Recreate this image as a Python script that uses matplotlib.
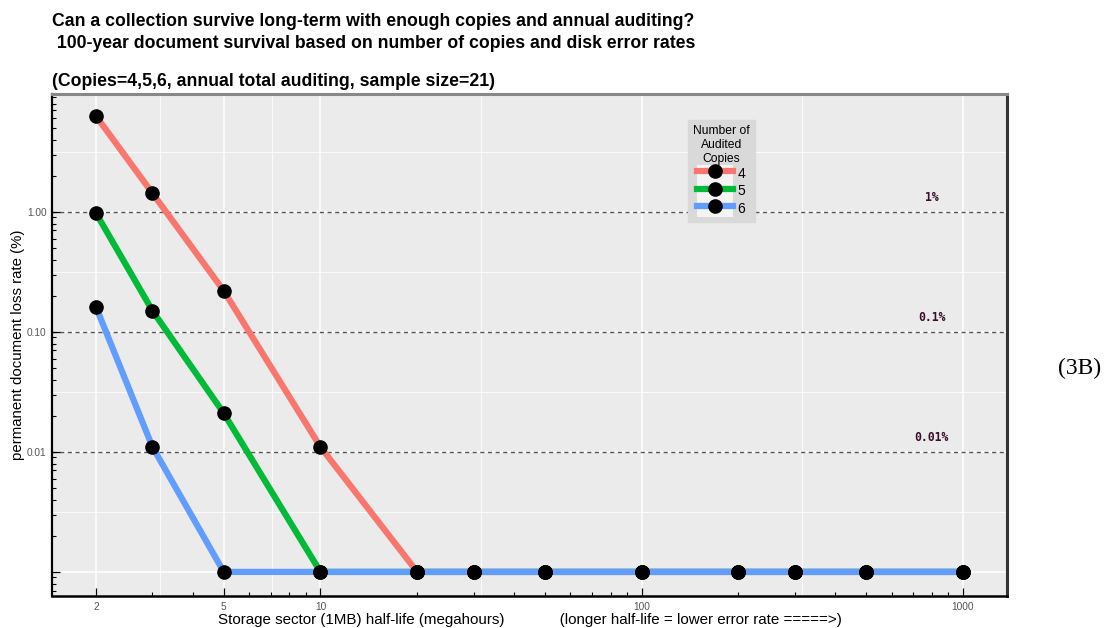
import matplotlib
matplotlib.use("Agg")
import matplotlib.pyplot as plt
from matplotlib.lines import Line2D
from matplotlib.patches import Rectangle
from matplotlib.legend_handler import HandlerTuple
from matplotlib.ticker import FixedLocator, FixedFormatter, NullFormatter
import numpy as np

plt.rcParams['font.family'] = ['Liberation Sans', 'DejaVu Sans']

# Storage sector half-life (megahours)
half_life = [2, 3, 5, 10, 20, 30, 50, 100, 200, 300, 500, 1000]
# Permanent document loss rate (%) per number of audited copies (floor = 0.001)
loss_copies4 = [6.3, 1.43, 0.22, 0.011, 0.001, 0.001, 0.001, 0.001, 0.001, 0.001, 0.001, 0.001]
loss_copies5 = [0.98, 0.15, 0.021, 0.001, 0.001, 0.001, 0.001, 0.001, 0.001, 0.001, 0.001, 0.001]
loss_copies6 = [0.162, 0.011, 0.001, 0.001, 0.001, 0.001, 0.001, 0.001, 0.001, 0.001, 0.001, 0.001]
series_labels = ["4", "5", "6"]
series_colors = ["#F8766D", "#00BA38", "#619CFF"]

# Reference loss-rate levels
ref_levels = [1.0, 0.1, 0.01]
ref_labels = ["1%", "0.1%", "0.01%"]

x_ticks = [2, 5, 10, 100, 1000]
x_ticklabels = ["2", "5", "10", "100", "1000"]
y_ticks = [1.0, 0.1, 0.01, 0.001]
y_ticklabels = ["1.00", "0.10", "0.01", ""]

fig = plt.figure(figsize=(11.15, 6.28), dpi=100)
ax = fig.add_axes([52 / 1115, 1 - 596 / 628, 955 / 1115, 502 / 628])
ax.set_facecolor("#EBEBEB")
ax.set_xscale("log")
ax.set_yscale("log")
ax.set_xlim(1.46, 1371)
ax.set_ylim(0.00063, 9.6)

# background grid: major at breaks, minor at half-decades in log space
for xv in x_ticks:
    ax.axvline(xv, color="white", lw=1.1, zorder=0.5)
for xv in [np.sqrt(10), np.sqrt(50), np.sqrt(1000), np.sqrt(100000)]:
    ax.axvline(xv, color="white", lw=0.6, zorder=0.5)
for yv in y_ticks:
    ax.axhline(yv, color="white", lw=1.1, zorder=0.5)
for yv in [np.sqrt(10), np.sqrt(0.1), np.sqrt(0.001), np.sqrt(0.00001)]:
    ax.axhline(yv, color="white", lw=0.6, zorder=0.5)

for lvl, lab in zip(ref_levels, ref_labels):
    ax.axhline(lvl, color="#555555", lw=1.0, ls=(0, (3, 2.5)), zorder=1)
    ax.text(800, lvl * 1.31, lab, ha="center", va="center",
            family="DejaVu Sans Mono", fontweight="bold", fontsize=8.3,
            color="#3a0d2a", zorder=2)

handles = []
for vals, lab, col in zip([loss_copies4, loss_copies5, loss_copies6],
                          series_labels, series_colors):
    ax.plot(half_life, vals, color=col, lw=4.5, solid_capstyle="butt", zorder=3)
    ax.plot(half_life, vals, ls="none", marker="o", ms=9.5, color="black", zorder=4)
    key_bg = Rectangle((0, 0), 1, 1, facecolor="#F4F4F4", edgecolor="none")
    key_line = Line2D([], [], color=col, lw=4.5, marker="o", ms=9.5,
                      markerfacecolor="black", markeredgecolor="black")
    handles.append((key_bg, key_line))

leg = ax.legend(handles, series_labels, title="Number of\nAudited\nCopies",
                handler_map={tuple: HandlerTuple(ndivide=1, pad=0)},
                loc="upper left", bbox_to_anchor=(0.666, 0.948),
                fontsize=10, title_fontsize=8.7, frameon=True, fancybox=False,
                facecolor="#D9D9D9", edgecolor="#D9D9D9", framealpha=1,
                handlelength=2.6, handleheight=1.55, handletextpad=0.3,
                labelspacing=0.0, borderpad=0.35, borderaxespad=0)
leg.get_title().set_multialignment("center")
leg.set_zorder(5)

# ticks
ax.xaxis.set_major_locator(FixedLocator(x_ticks))
ax.xaxis.set_major_formatter(FixedFormatter(x_ticklabels))
minor_x = [m * 10 ** k for k in range(0, 4) for m in range(2, 10)]
minor_x = [v for v in minor_x if v not in x_ticks]
ax.xaxis.set_minor_locator(FixedLocator(minor_x))
ax.xaxis.set_minor_formatter(NullFormatter())
ax.yaxis.set_major_locator(FixedLocator(y_ticks))
ax.yaxis.set_major_formatter(FixedFormatter(y_ticklabels))
minor_y = [m * 10.0 ** k for k in range(-4, 1) for m in range(2, 10)]
ax.yaxis.set_minor_locator(FixedLocator(minor_y))
ax.yaxis.set_minor_formatter(NullFormatter())
ax.tick_params(axis="both", which="major", direction="in", length=6, width=0.9,
               color="black", labelsize=7.3, labelcolor="#555555", pad=4)
ax.tick_params(axis="both", which="minor", direction="in", length=3, width=0.8,
               color="black")

for side, col, lw in [("left", "black", 1.6), ("bottom", "black", 1.8),
                      ("right", "#333333", 2.2), ("top", "#888888", 2.2)]:
    ax.spines[side].set_color(col)
    ax.spines[side].set_linewidth(lw)

ax.set_ylabel("permanent document loss rate (%)", fontsize=10.8, labelpad=1)
ax.set_xlabel("Storage sector (1MB) half-life (megahours)"
              "             (longer half-life = lower error rate =====>)",
              fontsize=10.9, labelpad=1)

title_size = 12.7
fig.text(52 / 1115, 1 - 21 / 628,
         "Can a collection survive long-term with enough copies and annual auditing?",
         ha="left", va="center", fontsize=title_size, fontweight="bold")
fig.text(52 / 1115, 1 - 43 / 628,
         " 100-year document survival based on number of copies and disk error rates",
         ha="left", va="center", fontsize=title_size, fontweight="bold")
fig.text(52 / 1115, 1 - 81 / 628,
         "(Copies=4,5,6, annual total auditing, sample size=21)",
         ha="left", va="center", fontsize=title_size, fontweight="bold")
fig.text(1080 / 1115, 1 - 368 / 628, "(3B)", ha="center", va="center",
         family="Liberation Serif", fontsize=17)

fig.savefig("out.png", dpi=100)
